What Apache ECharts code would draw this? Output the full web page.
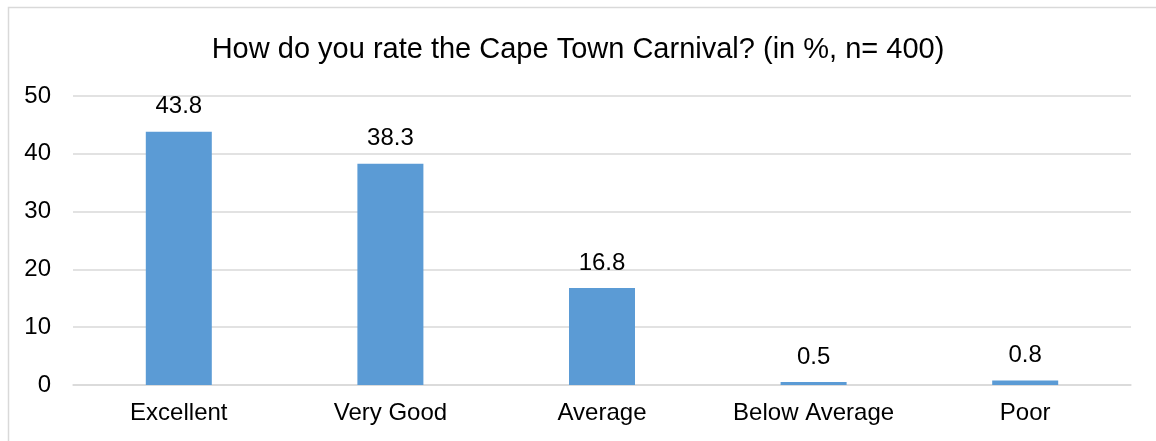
<!DOCTYPE html>
<html>
<head>
<meta charset="utf-8">
<script src="https://cdn.jsdelivr.net/npm/echarts@6/dist/echarts.min.js"></script>
<style>
  html, body { margin: 0; padding: 0; background: #fff; }
  #chart { width: 1156px; height: 441px; }
</style>
</head>
<body>
<div id="chart"></div>
<script>
  var categories = ['Excellent', 'Very Good', 'Average', 'Below Average', 'Poor'];
  var ratings = [43.8, 38.3, 16.8, 0.5, 0.8];
  var yTicks = [0, 10, 20, 30, 40, 50];

  var font = '"Liberation Sans", Arial, sans-serif';
  var chart = echarts.init(document.getElementById('chart'), null, {renderer: 'canvas'});

  var option = {
    animation: false,
    backgroundColor: '#fff',
    title: {
      text: 'How do you rate the Cape Town Carnival? (in %, n= 400)',
      left: 'center',
      top: 30,
      textStyle: { fontFamily: font, fontSize: 29, fontWeight: 'normal', color: '#000' }
    },
    graphic: [{
      type: 'rect',
      shape: { x: 8.5, y: 7.5, width: 1160, height: 450 },
      style: { fill: 'none', stroke: '#d9d9d9', lineWidth: 1.5 },
      silent: true
    }],
    grid: { left: 73, right: 25, top: 96, bottom: 56, containLabel: false },
    xAxis: {
      type: 'category',
      data: categories,
      axisLine: { lineStyle: { color: '#d9d9d9', width: 1.5 } },
      axisTick: { show: false },
      axisLabel: { fontFamily: font, fontSize: 24, color: '#000', margin: 16 }
    },
    yAxis: {
      type: 'value',
      min: yTicks[0],
      max: yTicks[yTicks.length - 1],
      interval: 10,
      axisLine: { show: false },
      axisTick: { show: false },
      splitLine: { lineStyle: { color: '#d9d9d9', width: 1.5 } },
      axisLabel: { fontFamily: font, fontSize: 24, color: '#000', margin: 22 }
    },
    series: [{
      type: 'bar',
      data: ratings,
      barWidth: 66,
      itemStyle: { color: '#5b9bd5' },
      label: {
        show: true,
        position: 'top',
        distance: 13,
        fontFamily: font,
        fontSize: 24,
        color: '#000',
        formatter: function (p) { return p.value.toFixed(1); }
      }
    }]
  };

  chart.setOption(option);
</script>
</body>
</html>
